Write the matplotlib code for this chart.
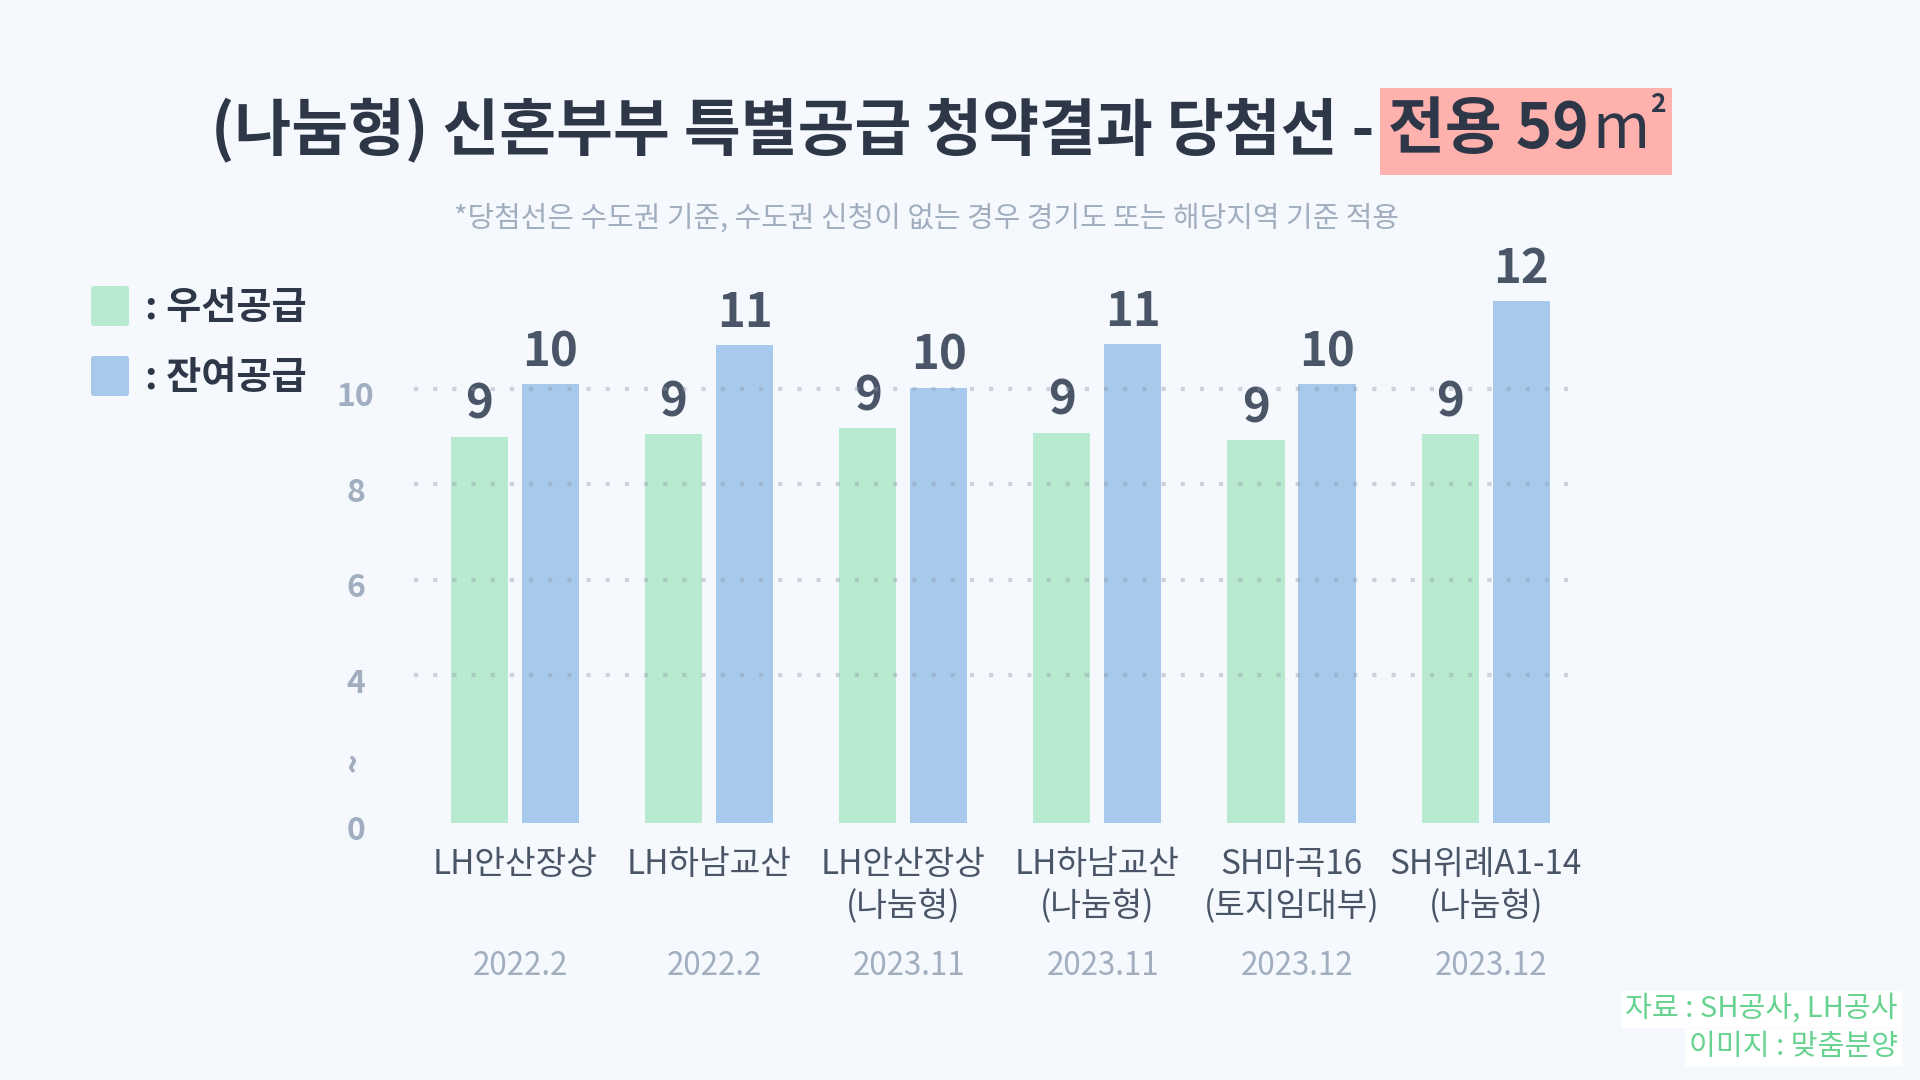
import numpy as np
import matplotlib
matplotlib.use("Agg")
import matplotlib.pyplot as plt
from matplotlib.patches import Rectangle, FancyBboxPatch
from matplotlib.transforms import blended_transform_factory, ScaledTranslation

plt.rcParams['font.family'] = ['Noto Sans CJK KR', 'DejaVu Sans']

# ---------------- data ----------------
categories = ["LH안산장상", "LH하남교산", "LH안산장상\n(나눔형)", "LH하남교산\n(나눔형)",
              "SH마곡16\n(토지임대부)", "SH위례A1-14\n(나눔형)"]
dates = ["2022.2", "2022.2", "2023.11", "2023.11", "2023.12", "2023.12"]
priority_vals = [9.0, 9.05, 9.18, 9.08, 8.92, 9.05]     # 우선공급 (bar heights)
remain_vals = [10.1, 10.92, 10.02, 10.94, 10.1, 11.84]  # 잔여공급 (bar heights)
priority_labels = ["9", "9", "9", "9", "9", "9"]
remain_labels = ["10", "11", "10", "11", "10", "12"]
ytick_vals = [0, 4, 6, 8, 10]
ytick_labels = ["0", "4", "6", "8", "10"]
grid_vals = [4, 6, 8, 10]
break_val = 1.78

title_main = "(나눔형) 신혼부부 특별공급 청약결과 당첨선 -"
title_hl = "전용 59"
subtitle = "*당첨선은 수도권 기준, 수도권 신청이 없는 경우 경기도 또는 해당지역 기준 적용"
legend_labels = [": 우선공급", ": 잔여공급"]
source_lines = ["자료 : SH공사, LH공사", "이미지 : 맞춤분양"]

# ---------------- style ----------------
BG = "#F5F8FC"
DARK = "#2D3748"
MID = "#4A5568"
LIGHT = "#A0AEC0"
GREEN = "#B8EAD0"
BLUE = "#A7C9EB"
SRC = "#68D391"
HL = "#FFB1AE"

W, H = 1920, 1080
fig = plt.figure(figsize=(19.2, 10.8), dpi=100, facecolor=BG)

# broken y-axis scale: values below 4 compressed
K = 0.775
def fwd(v):
    v = np.asarray(v, dtype=float)
    return np.where(v >= 4, v, 4 - (4 - v) * K)
def inv(d):
    d = np.asarray(d, dtype=float)
    return np.where(d >= 4, d, 4 - (4 - d) / K)

ax = fig.add_axes([414 / W, 1 - 830 / H, (1573 - 414) / W, (830 - 240) / H])
ax.set_facecolor(BG)
ax.set_yscale('function', functions=(fwd, inv))

x = np.arange(len(categories))
bw = 0.294
off = 0.183
ax.bar(x - off, priority_vals, width=bw, color=GREEN, zorder=2)
ax.bar(x + off, remain_vals, width=bw, color=BLUE, zorder=2)

for xi, v, lab in zip(x - off, priority_vals, priority_labels):
    ax.annotate(lab, (xi, v), xytext=(0, 23), textcoords='offset points',
                ha='center', va='center', fontsize=34, fontweight='bold', color=MID)
for xi, v, lab in zip(x + off, remain_vals, remain_labels):
    ax.annotate(lab, (xi, v), xytext=(0, 23), textcoords='offset points',
                ha='center', va='center', fontsize=34, fontweight='bold', color=MID)

for g in grid_vals:
    ax.axhline(g, color='#8D99AA', alpha=0.4, lw=3, linestyle=(0, (1, 3.6)),
               zorder=3, dash_capstyle='butt')

ax.set_xlim(-0.52, 5.45)
ax.set_ylim(-0.19, 13.12)
for s in ax.spines.values():
    s.set_visible(False)

ax.set_yticks(ytick_vals + [break_val])
ax.set_yticklabels(ytick_labels + ["~"])
ax.tick_params(axis='y', length=0, pad=42, labelsize=23, labelcolor=LIGHT)
shift = ScaledTranslation(0, -5 / 100, fig.dpi_scale_trans)
for lab in ax.get_yticklabels():
    lab.set_ha('center')
    lab.set_fontweight('bold')
    lab.set_transform(lab.get_transform() + shift)
brk = ax.get_yticklabels()[-1]
brk.set_rotation(90)
brk.set_fontsize(24)
brk.set_va('center')

ax.set_xticks(x)
ax.set_xticklabels(categories, fontsize=24, color=MID, linespacing=1.3)
ax.tick_params(axis='x', length=0, pad=12)

tr = blended_transform_factory(ax.transData, ax.transAxes)
for xi, d in zip(x, dates):
    ax.text(xi + 0.03, (830 - 966) / (830 - 240), d, transform=tr, ha='center', va='center',
            fontsize=22.5, color=LIGHT)

# ---------------- title ----------------
ty = 1 - 130 / H
TF = 44.5
t1 = fig.text(211 / W, ty, title_main, fontsize=TF, fontweight='bold', color=DARK,
              ha='left', va='center')
fig.canvas.draw()
r = fig.canvas.get_renderer()
bb1 = t1.get_window_extent(r)
x2 = bb1.x1 + 14
t2 = fig.text(x2 / W, ty, title_hl, fontsize=TF, fontweight='bold', color=DARK,
              ha='left', va='center', zorder=5)
bb2 = t2.get_window_extent(r)
t3 = fig.text((bb2.x1 + 3) / W, ty, "m", fontsize=TF, fontweight='normal', color=DARK,
              ha='left', va='center', zorder=5)
bb3 = t3.get_window_extent(r)
t4 = fig.text((bb3.x1 + 1) / W, 1 - 104 / H, "2", fontsize=19, fontweight='bold', color=DARK,
              ha='left', va='center', zorder=5)
bb4 = t4.get_window_extent(r)
hx0 = bb2.x0 - 8
hx1 = bb4.x1 + 6
fig.patches.append(Rectangle((hx0 / W, 1 - 175 / H), (hx1 - hx0) / W, 87 / H,
                             transform=fig.transFigure, facecolor=HL, edgecolor='none',
                             zorder=1))

fig.text(927 / W, 1 - 219 / H, subtitle, fontsize=20.8, color=LIGHT, ha='center', va='center')

# ---------------- legend ----------------
for i, (lab, c) in enumerate(zip(legend_labels, [GREEN, BLUE])):
    top = 286 + i * 70
    fig.patches.append(FancyBboxPatch((91 / W, 1 - (top + 40) / H), 38 / W, 40 / H,
                                      boxstyle="round,pad=0,rounding_size=0.002",
                                      transform=fig.transFigure, facecolor=c,
                                      edgecolor='none'))
    fig.text(145 / W, 1 - (top + 22) / H, lab, fontsize=27.5, fontweight='bold', color=DARK,
             ha='left', va='center')

# ---------------- source ----------------
for i, line in enumerate(source_lines):
    fig.text(1898 / W, 1 - (1009 + i * 38) / H, line, fontsize=21, color=SRC,
             ha='right', va='center',
             bbox=dict(boxstyle='square,pad=0.12', facecolor='white', edgecolor='none'))

fig.savefig("out.png", dpi=100, facecolor=BG)
